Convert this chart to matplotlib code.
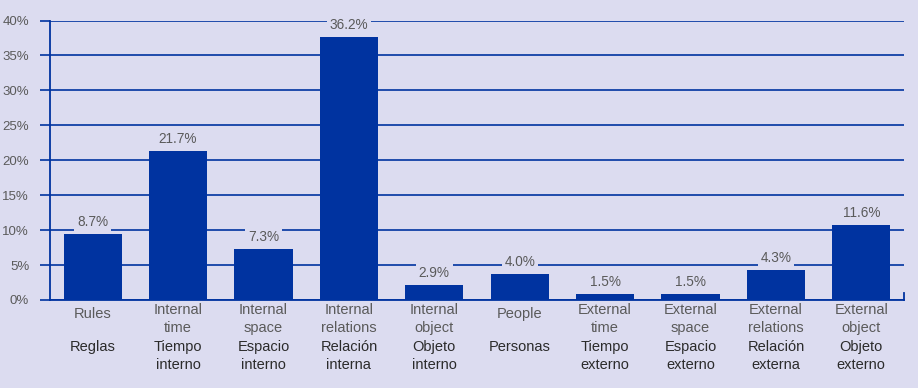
import matplotlib
matplotlib.use("Agg")
import matplotlib.pyplot as plt
from matplotlib.transforms import blended_transform_factory

categories_en = [["Rules"], ["Internal", "time"], ["Internal", "space"], ["Internal", "relations"],
                 ["Internal", "object"], ["People"], ["External", "time"], ["External", "space"],
                 ["External", "relations"], ["External", "object"]]
categories_es = [["Reglas"], ["Tiempo", "interno"], ["Espacio", "interno"], ["Relación", "interna"],
                 ["Objeto", "interno"], ["Personas"], ["Tiempo", "externo"], ["Espacio", "externo"],
                 ["Relación", "externa"], ["Objeto", "externo"]]
bar_heights = [9.45, 21.3, 7.3, 37.6, 2.1, 3.7, 0.86, 0.86, 4.3, 10.7]
value_labels = ["8.7%", "21.7%", "7.3%", "36.2%", "2.9%", "4.0%", "1.5%", "1.5%", "4.3%", "11.6%"]
yticks = [0, 5, 10, 15, 20, 25, 30, 35, 40]
ytick_labels = ["0%", "5%", "10%", "15%", "20%", "25%", "30%", "35%", "40%"]

BG = "#dcdcf0"
BLUE = "#0033a0"
GRAY = "#5a5a5a"
DARK = "#2b2b2b"
plt.rcParams['font.family'] = ['Liberation Sans', 'DejaVu Sans']

fig = plt.figure(figsize=(9.18, 3.88), dpi=100, facecolor=BG)
ax = fig.add_axes([50/918, 1-300/388, 854/918, 279.5/388])
ax.set_facecolor(BG)

x = list(range(len(bar_heights)))
ax.bar(x, bar_heights, width=0.68, color=BLUE, zorder=3)
ax.set_xlim(-0.5, len(x) - 0.5)
ax.set_ylim(0, 40)

ax.spines["top"].set_visible(False)
for s in ["left", "bottom", "right"]:
    ax.spines[s].set_color(BLUE)
    ax.spines[s].set_linewidth(1.3)
    ax.spines[s].set_zorder(4)
ax.spines["right"].set_bounds(0, 1)
ax.set_yticks(yticks)
ax.set_yticklabels(ytick_labels, color=GRAY, fontsize=9.5)
ax.tick_params(axis='y', length=7, width=1.2, color=BLUE, pad=8)
ax.set_xticks([])
ax.yaxis.grid(True, color=BLUE, linewidth=1.2, zorder=1)
ax.set_axisbelow(True)

for xi, h, lab in zip(x, bar_heights, value_labels):
    ax.annotate(lab, (xi, h), xytext=(0, 12), textcoords="offset pixels",
                ha="center", va="center", fontsize=9.8, color=GRAY, zorder=5,
                bbox=dict(boxstyle="square,pad=0.2", fc=BG, ec="none"))

tr = blended_transform_factory(ax.transData, ax.transAxes)
FS = 10.5
for xi, en, es in zip(x, categories_en, categories_es):
    if len(en) == 1:
        ax.annotate(en[0], (xi, 0), xycoords=tr, xytext=(0, -14), textcoords="offset pixels",
                    ha="center", va="center", fontsize=FS, color=GRAY, annotation_clip=False)
    else:
        for k, line in enumerate(en):
            ax.annotate(line, (xi, 0), xycoords=tr, xytext=(0, -10 - 18 * k), textcoords="offset pixels",
                        ha="center", va="center", fontsize=FS, color=GRAY, annotation_clip=False)
    for k, line in enumerate(es):
        ax.annotate(line, (xi, 0), xycoords=tr, xytext=(0, -47 - 18 * k), textcoords="offset pixels",
                    ha="center", va="center", fontsize=FS, color=DARK, annotation_clip=False)

fig.savefig("out.png", dpi=100, facecolor=BG)
